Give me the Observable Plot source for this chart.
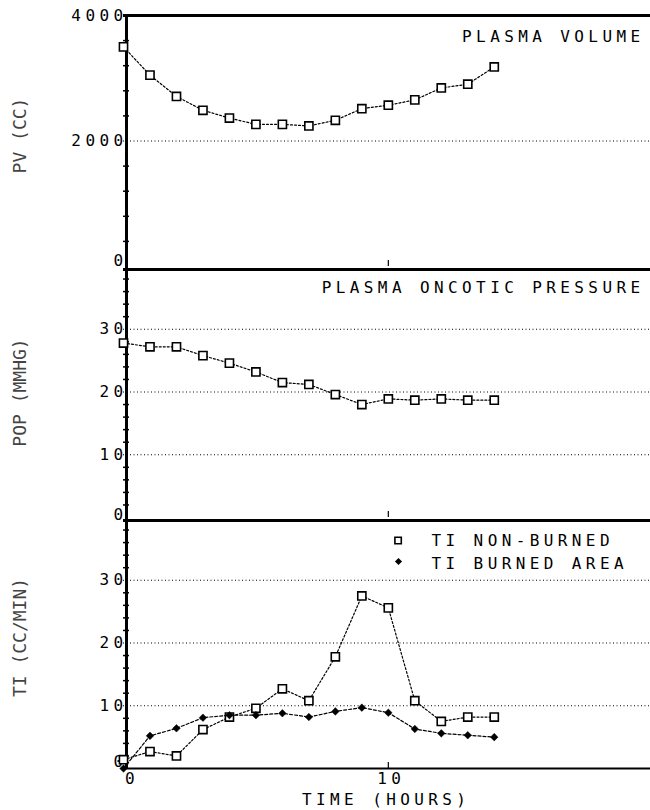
<!DOCTYPE html>
<html>
<head>
<meta charset="utf-8">
<script src="https://cdn.jsdelivr.net/npm/d3@7"></script>
<script src="https://cdn.jsdelivr.net/npm/@observablehq/plot@0.6"></script>
<style>
  html, body { margin: 0; padding: 0; background: #fff; }
  #chart { position: relative; width: 650px; height: 810px; overflow: hidden; background: #fff; }
  #chart svg { position: absolute; left: 0; overflow: visible; }
  #chart svg text { letter-spacing: 4.4px; }
  #chart svg text[transform*="rotate"], #chart svg g.ylab text { letter-spacing: 0px; }
</style>
</head>
<body>
<div id="chart"></div>
<script>
// ---- data ----
const hours = [0, 1, 2, 3, 4, 5, 6, 7, 8, 9, 10, 11, 12, 13, 14];
const plasmaVolume = [3500, 3050, 2710, 2490, 2365, 2265, 2265, 2240, 2330, 2515, 2570, 2655, 2845, 2905, 3180];
const oncoticPressure = [27.8, 27.2, 27.2, 25.8, 24.6, 23.2, 21.5, 21.2, 19.6, 18.0, 18.9, 18.7, 18.9, 18.7, 18.7];
const tiNonBurned = [1.4, 2.7, 2.0, 6.2, 8.2, 9.6, 12.7, 10.8, 17.8, 27.5, 25.6, 10.8, 7.5, 8.2, 8.2];
const tiBurned = [0, 5.2, 6.4, 8.1, 8.5, 8.5, 8.8, 8.2, 9.1, 9.7, 8.9, 6.3, 5.6, 5.3, 5.0];

// ---- tick labels / text ----
const xTickLabels = [0, 10];
const pvTickLabels = [0, 2000, 4000];
const pvGrid = [2000];
const pvMinor = [400, 800, 1200, 1600, 2400, 2800, 3200, 3600];
const popTickLabels = [0, 10, 20, 30];
const tiTickLabels = [0, 10, 20, 30];
const smallGrid = [10, 20, 30];
const smallMinor = [2, 4, 6, 8, 12, 14, 16, 18, 22, 24, 26, 28, 32, 34, 36, 38];
const titles = ["PLASMA VOLUME", "PLASMA ONCOTIC PRESSURE"];
const yLabels = ["PV (CC)", "POP (MMHG)", "TI (CC/MIN)"];
const legendLabels = ["TI NON-BURNED", "TI BURNED AREA"];
const xLabel = "TIME (HOURS)";

const rows = (ys) => hours.map((h, i) => ({h, v: ys[i]}));

const FONT = "'DejaVu Sans Mono', 'Liberation Mono', monospace";
const W = 650, ML = 123;
const xScale = {domain: [0, 19.9], axis: null};

function panel({top, height, mb, ymax, tickLabels, grid, minor, series, yLabel, labelDy, zeroDy, extra = []}) {
  const innerH = height - 15 - mb;
  const tickText = {text: d => String(d), frameAnchor: "left", textAnchor: "end", lineAnchor: "middle", dx: 4, fontSize: 16, fill: "black"};
  const marks = [
    // minor inward ticks on the left axis
    Plot.tickY(minor, {y: d => d, insetRight: W - ML - 6, stroke: "black", strokeWidth: 1.5}),
    // dotted horizontal grid
    Plot.ruleY(grid, {y: d => d, stroke: "black", strokeWidth: 1, strokeDasharray: "1,2.5"}),
    // x tick at 10 pointing inward from bottom
    Plot.tickX([10], {x: d => d, insetTop: innerH - 6, stroke: "black", strokeWidth: 1.2}),
    // top border
    Plot.ruleY([ymax], {y: d => d, stroke: "black", strokeWidth: 3, dy: top === 0 ? 0 : 3}),
    // left axis
    Plot.ruleX([0], {x: d => d, stroke: "black", strokeWidth: 3, dx: 3}),
    // y tick labels (zero label sits a little above its baseline in the reference)
    Plot.text(tickLabels, {...tickText, y: d => d, filter: d => d !== 0}),
    Plot.text(tickLabels, {...tickText, y: d => d, filter: d => d === 0, dy: zeroDy}),
    ...series,
    // rotated y-axis label
    Plot.text([yLabel], {text: d => d, frameAnchor: "left", rotate: -90, textAnchor: "middle", lineAnchor: "middle", dx: 20 - ML, dy: labelDy, fontSize: 18, fill: "#444", className: "ylab"}),
    ...extra
  ];
  const svg = Plot.plot({
    width: W, height,
    marginLeft: ML, marginRight: 0, marginTop: 15, marginBottom: mb,
    x: xScale,
    y: {domain: [0, ymax], axis: null},
    style: {fontFamily: FONT, fontSize: "16px", background: "transparent", color: "black", overflow: "visible"},
    marks
  });
  svg.style.top = top + "px";
  return svg;
}

function squareSeries(ys) {
  return [
    Plot.line(rows(ys), {x: "h", y: "v", stroke: "black", strokeWidth: 1.2, strokeDasharray: "2,2"}),
    Plot.dot(rows(ys), {x: "h", y: "v", symbol: "square", r: 4.6, stroke: "black", strokeWidth: 1.6, fill: "white"})
  ];
}
function diamondSeries(ys) {
  return [
    Plot.line(rows(ys), {x: "h", y: "v", stroke: "black", strokeWidth: 1.2, strokeDasharray: "3,2"}),
    Plot.dot(rows(ys), {x: "h", y: "v", symbol: "diamond2", r: 3.4, fill: "black", stroke: "black", strokeWidth: 0.5})
  ];
}

const chart = document.getElementById("chart");

// Panel 1: plasma volume
chart.append(panel({
  top: 0, height: 290, mb: 24, ymax: 4000,
  tickLabels: pvTickLabels, grid: pvGrid, minor: pvMinor,
  series: squareSeries(plasmaVolume),
  yLabel: yLabels[0], labelDy: -5.5, zeroDy: -6,
  extra: [Plot.text([titles[0]], {text: d => d, frameAnchor: "top-right", textAnchor: "end", lineAnchor: "middle", dx: -6, dy: 21.5, fontSize: 16, fill: "black"})]
}));

// Panel 2: plasma oncotic pressure
chart.append(panel({
  top: 251, height: 290, mb: 24, ymax: 40,
  tickLabels: popTickLabels, grid: smallGrid, minor: smallMinor,
  series: squareSeries(oncoticPressure),
  yLabel: yLabels[1], labelDy: 0.5, zeroDy: -3,
  extra: [Plot.text([titles[1]], {text: d => d, frameAnchor: "top-right", textAnchor: "end", lineAnchor: "middle", dx: -6, dy: 21.5, fontSize: 16, fill: "black"})]
}));

// Panel 3: transcapillary infusion
const xTickText = {x: d => d, text: d => String(d), frameAnchor: "bottom", textAnchor: "middle", lineAnchor: "middle", dy: 10, fontSize: 16, fill: "black"};
chart.append(panel({
  top: 502, height: 308, mb: 42, ymax: 40,
  tickLabels: tiTickLabels, grid: smallGrid, minor: smallMinor,
  series: [...squareSeries(tiNonBurned), ...diamondSeries(tiBurned)],
  yLabel: yLabels[2], labelDy: -5.5, zeroDy: -7,
  extra: [
    Plot.ruleY([0], {y: d => d, stroke: "black", strokeWidth: 2}),
    Plot.dot([legendLabels[0]], {frameAnchor: "top-left", dx: 274.6, dy: 23, symbol: "square", r: 3.6, stroke: "black", strokeWidth: 1.6, fill: "white"}),
    Plot.dot([legendLabels[1]], {frameAnchor: "top-left", dx: 275, dy: 44, symbol: "diamond2", r: 3.2, fill: "black"}),
    Plot.text([legendLabels[0]], {text: d => d, frameAnchor: "top-left", textAnchor: "start", lineAnchor: "middle", dx: 308, dy: 23, fontSize: 16, fill: "black"}),
    Plot.text([legendLabels[1]], {text: d => d, frameAnchor: "top-left", textAnchor: "start", lineAnchor: "middle", dx: 308, dy: 46.5, fontSize: 16, fill: "black"}),
    Plot.text(xTickLabels, {...xTickText, filter: d => d === 0, dx: 8.5}),
    Plot.text(xTickLabels, {...xTickText, filter: d => d !== 0, dx: 3}),
    Plot.text([xLabel], {text: d => d, frameAnchor: "bottom", textAnchor: "middle", lineAnchor: "middle", dx: -0.8, dy: 31, fontSize: 16, fill: "black"})
  ]
}));
</script>
</body>
</html>
